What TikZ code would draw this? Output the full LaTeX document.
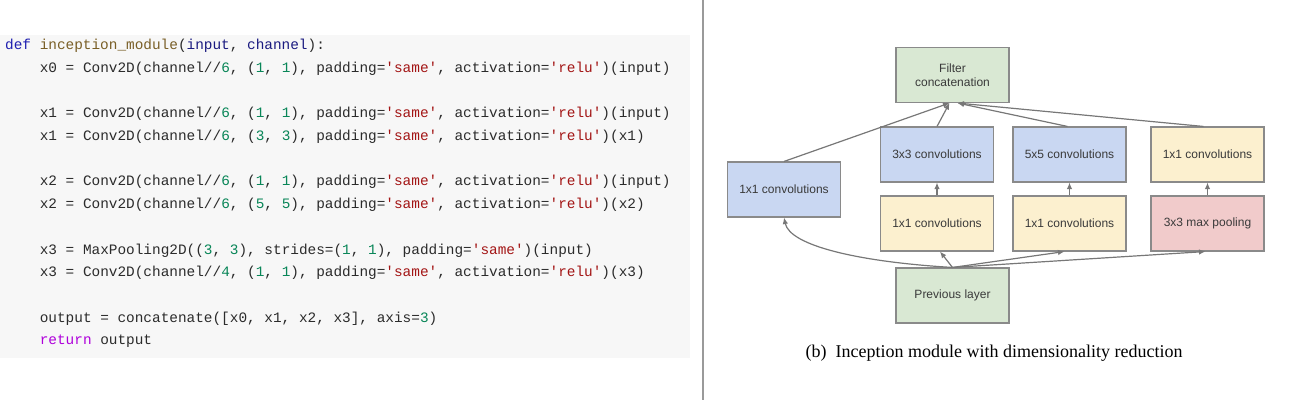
\documentclass[tikz,border=0pt]{standalone}
\usepackage{fontspec}
\usepackage{tikz}
\usetikzlibrary{
    arrows.meta,
    positioning
}
\newfontfamily\codefont{Liberation Mono}
\newfontfamily\boxfont{Liberation Sans}
\newfontfamily\capfont{Liberation Serif}

\definecolor{codebg}{HTML}{F7F7F7}
\definecolor{codetext}{HTML}{2B2B2B}
\definecolor{codekw}{HTML}{1F1FB0}
\definecolor{codefn}{HTML}{795E26}
\definecolor{codeprm}{HTML}{1A1A80}
\definecolor{codestr}{HTML}{A31515}
\definecolor{codenum}{HTML}{098658}
\definecolor{coderet}{HTML}{AF00DB}
\definecolor{sepgray}{HTML}{9A9A9A}
\definecolor{boxgray}{HTML}{8A8A8A}
\definecolor{boxtext}{HTML}{3A3A3A}
\definecolor{linkgray}{HTML}{777777}
\definecolor{convfill}{HTML}{C9D7F2}
\definecolor{redfill}{HTML}{FCF0CF}
\definecolor{poolfill}{HTML}{F1CBCB}
\definecolor{catfill}{HTML}{D9E8D3}

\newcommand{\codekw}[1]{\textcolor{codekw}{#1}}
\newcommand{\codefn}[1]{\textcolor{codefn}{#1}}
\newcommand{\codeprm}[1]{\textcolor{codeprm}{#1}}
\newcommand{\codestr}[1]{\textcolor{codestr}{\textquotesingle#1\textquotesingle}}
\newcommand{\codenum}[1]{\textcolor{codenum}{#1}}
\newcommand{\coderet}[1]{\textcolor{coderet}{#1}}

\tikzset{
    codeline/.style={anchor=west, inner sep=0pt, text=codetext,
        font=\codefont\fontsize{14.4}{17}\selectfont},
    layer/.style={draw=boxgray, line width=1.1pt, minimum width=113pt,
        minimum height=55pt, inner sep=2pt, align=center, text=boxtext,
        font=\boxfont\fontsize{12}{14}\selectfont},
    convlayer/.style={layer, fill=convfill},
    redlayer/.style={layer, fill=redfill},
    poollayer/.style={layer, fill=poolfill},
    catlayer/.style={layer, fill=catfill},
    link/.style={draw=linkgray, line width=1.2pt, ->},
    >={Latex[length=6.5pt,width=5.5pt]}
}

\begin{document}
\begin{tikzpicture}[x=1pt, y=-1pt]
                        \useasboundingbox (0,0) rectangle (1298,417);
                        \fill[codebg] (0,35) rectangle (690,358);
                        \draw[sepgray, line width=1.5pt] (703,0) -- (703,400);

                        \node[codeline] (l0) at (5,46) {\codekw{def} \codefn{inception\_module}(\codeprm{input}, \codeprm{channel}):};
                        \node[codeline] (l1) at (39.6,68.7) {x0 = Conv2D(channel//\codenum{6}, (\codenum{1}, \codenum{1}), padding=\codestr{same}, activation=\codestr{relu})(input)};
                        \node[codeline] (l3) at (39.6,114.1) {x1 = Conv2D(channel//\codenum{6}, (\codenum{1}, \codenum{1}), padding=\codestr{same}, activation=\codestr{relu})(input)};
                        \node[codeline] (l4) at (39.6,136.8) {x1 = Conv2D(channel//\codenum{6}, (\codenum{3}, \codenum{3}), padding=\codestr{same}, activation=\codestr{relu})(x1)};
                        \node[codeline] (l6) at (39.6,182.2) {x2 = Conv2D(channel//\codenum{6}, (\codenum{1}, \codenum{1}), padding=\codestr{same}, activation=\codestr{relu})(input)};
                        \node[codeline] (l7) at (39.6,204.9) {x2 = Conv2D(channel//\codenum{6}, (\codenum{5}, \codenum{5}), padding=\codestr{same}, activation=\codestr{relu})(x2)};
                        \node[codeline] (l9) at (39.6,250.3) {x3 = MaxPooling2D((\codenum{3}, \codenum{3}), strides=(\codenum{1}, \codenum{1}), padding=\codestr{same})(input)};
                        \node[codeline] (l10) at (39.6,273) {x3 = Conv2D(channel//\codenum{4}, (\codenum{1}, \codenum{1}), padding=\codestr{same}, activation=\codestr{relu})(x3)};
                        \node[codeline] (l12) at (39.6,318.4) {output = concatenate([x0, x1, x2, x3], axis=\codenum{3})};
                        \node[codeline] (l13) at (39.6,341.1) {\coderet{return} output};

                        \node[catlayer] (cat) at (952.5,75) {Filter\\concatenation};
                        \node[convlayer] (c1) at (784,189.5) {1x1 convolutions};
                        \node[convlayer] (c3) at (937,154.5) {3x3 convolutions};
                        \node[convlayer] (c5) at (1069.5,154.5) {5x5 convolutions};
                        \node[redlayer] (pp) at (1207.5,154.5) {1x1 convolutions};
                        \node[redlayer] (r3) at (937,223.5) {1x1 convolutions};
                        \node[redlayer] (r5) at (1069.5,223.5) {1x1 convolutions};
                        \node[poollayer] (mp) at (1207.5,223.5) {3x3 max pooling};
                        \node[catlayer] (prev) at (952.5,295.5) {Previous layer};
                        \node[font=\capfont\fontsize{18}{21}\selectfont, text=black] (cap) at (994,353)
                            {(b)\enspace Inception module with dimensionality reduction};

                        \draw[link]
                        (prev.north) .. controls (860,262) and (790,246) .. (c1.south);
                        \draw[link] (prev.north) -- ([xshift=3pt]r3.south);
                        \draw[link] (prev.north) -- ([xshift=-5pt]r5.south);
                        \draw[link] (prev.north) -- ([xshift=-2pt]mp.south);
                        \draw[link] (r3) -- (c3);
                        \draw[link] (r5) -- (c5);
                        \draw[link] (mp) -- (pp);
                        \draw[link] (c1.north) -- ([xshift=-3pt]cat.south);
                        \draw[link] (c3.north) -- ([xshift=-3pt]cat.south);
                        \draw[link] ([xshift=-2pt]c5.north) -- ([xshift=5pt]cat.south);
                        \draw[link] ([xshift=-4pt]pp.north) -- ([xshift=5pt]cat.south);
                    \end{tikzpicture}
\end{document}
